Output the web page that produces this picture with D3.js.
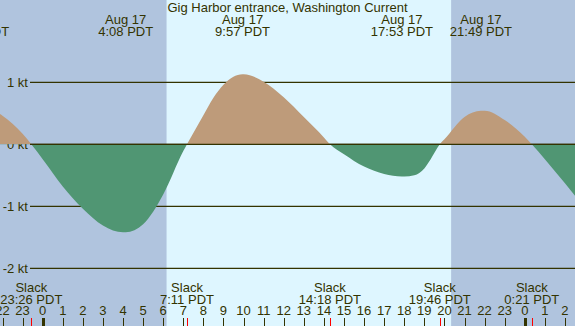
<!DOCTYPE html>
<html>
<head>
<meta charset="utf-8">
<script src="https://cdn.jsdelivr.net/npm/d3@7"></script>
<style>
  body { margin: 0; padding: 0; background: #fff; }
  svg { display: block; }
  text { font-family: "Liberation Sans", Arial, sans-serif; font-size: 13px; fill: #333300; }
</style>
</head>
<body>
<div class="render"></div>
<script>
// hours relative to midnight Aug 17 (PDT)
var title = "Gig Harbor entrance, Washington Current";

var hours = [-3.22, -3, -2, -1, -0.567, 0, 1, 2, 3, 4, 4.133, 5, 6, 7, 7.183, 8, 8.5, 9, 9.95, 10, 11, 12, 13, 14, 14.3,
             15, 16, 17, 17.883, 18, 18.5, 19, 19.3, 19.767, 20, 21, 21.817, 22, 23, 24, 24.35, 25, 26, 26.5];
var knots = [0.63, 0.62, 0.46, 0.17, 0, -0.24, -0.68, -1.04, -1.31, -1.42, -1.42, -1.29, -0.81, -0.11, 0, 0.47, 0.75, 0.96, 1.13, 1.13, 1.01, 0.76, 0.44, 0.11, 0,
             -0.16, -0.36, -0.48, -0.52, -0.52, -0.5, -0.39, -0.25, 0, 0.08, 0.44, 0.54, 0.54, 0.39, 0.12, 0, -0.24, -0.63, -0.83];

// max / min current events (top labels)
var peakDates = ["Aug 16", "Aug 17", "Aug 17", "Aug 17", "Aug 17"];
var peakTimes = ["20:47", "4:08", "9:57", "17:53", "21:49"];
var peakDays = [-1, 0, 0, 0, 0];

// slack water events (bottom labels)
var slackTimes = ["23:26", "7:11", "14:18", "19:46", "0:21"];
var slackDays = [-1, 0, 0, 0, 1];

var sunrise = "6:10", sunset = "20:20";
var yTicks = [1, 0, -1, -2];

var width = 575, height = 326;

function toHour(t, day) {
    var p = t.split(":");
    return day * 24 + parseInt(p[0]) + parseInt(p[1]) / 60;
}

var x = d3.scaleLinear().domain([-2.125, 26.5]).range([0, width]);
var y = d3.scaleLinear().domain([-2, 1]).range([268.3, 82.3]);

var svg = d3.select(".render").append("svg")
    .attr("width", width).attr("height", height);

// night / day background
svg.append("rect").attr("width", width).attr("height", height).attr("fill", "#b0c4de");
svg.append("rect")
    .attr("x", x(toHour(sunrise, 0))).attr("y", 0)
    .attr("width", x(toHour(sunset, 0)) - x(toHour(sunrise, 0)))
    .attr("height", height)
    .attr("fill", "#def6ff");

// grid lines
svg.selectAll("line.grid")
    .data(yTicks)
    .enter().append("line")
    .attr("class", "grid")
    .attr("x1", 30).attr("x2", width)
    .attr("y1", function(d) { return y(d); })
    .attr("y2", function(d) { return y(d); })
    .attr("stroke", "#333300").attr("stroke-width", 1.2);

svg.selectAll("text.ylab")
    .data(yTicks)
    .enter().append("text")
    .attr("class", "ylab")
    .attr("x", 28)
    .attr("y", function(d) { return y(d) + 4.5; })
    .attr("text-anchor", "end")
    .text(function(d) { return d + " kt"; });

// current curve
var pts = hours.map(function(h, i) { return [h, knots[i]]; });

var area = d3.area()
    .curve(d3.curveMonotoneX)
    .x(function(d) { return x(d[0]); })
    .y0(y(0))
    .y1(function(d) { return y(d[1]); });

var defs = svg.append("defs");
defs.append("clipPath").attr("id", "flood")
    .append("rect").attr("x", 0).attr("y", 0).attr("width", width).attr("height", y(0));
defs.append("clipPath").attr("id", "ebb")
    .append("rect").attr("x", 0).attr("y", y(0)).attr("width", width).attr("height", height - y(0));

svg.append("path").datum(pts)
    .attr("d", area)
    .attr("fill", "#be9b7a")
    .attr("clip-path", "url(#flood)");
svg.append("path").datum(pts)
    .attr("d", area)
    .attr("fill", "#509673")
    .attr("clip-path", "url(#ebb)");

svg.append("line")
    .attr("x1", 30).attr("x2", width)
    .attr("y1", y(0)).attr("y2", y(0))
    .attr("stroke", "#333300").attr("stroke-width", 1.2);

// title
svg.append("text")
    .attr("x", width / 2).attr("y", 12)
    .attr("text-anchor", "middle")
    .text(title);

// max / min labels
var peaks = peakTimes.map(function(t, i) {
    return { h: toHour(t, peakDays[i]), date: peakDates[i], time: t };
});
var pk = svg.selectAll("g.peak")
    .data(peaks)
    .enter().append("g")
    .attr("class", "peak")
    .attr("transform", function(d) { return "translate(" + x(d.h) + ",0)"; });
pk.append("text").attr("y", 24).attr("text-anchor", "middle").text(function(d) { return d.date; });
pk.append("text").attr("y", 36).attr("text-anchor", "middle").text(function(d) { return d.time + " PDT"; });

// slack labels
var slacks = slackTimes.map(function(t, i) {
    return { h: toHour(t, slackDays[i]), time: t };
});
var sl = svg.selectAll("g.slack")
    .data(slacks)
    .enter().append("g")
    .attr("class", "slack")
    .attr("transform", function(d) { return "translate(" + x(d.h) + ",0)"; });
sl.append("text").attr("y", 292).attr("text-anchor", "middle").text("Slack");
sl.append("text").attr("y", 303.5).attr("text-anchor", "middle").text(function(d) { return d.time + " PDT"; });

// hour axis
var hourTicks = d3.range(-2, 27);
svg.selectAll("text.hour")
    .data(hourTicks)
    .enter().append("text")
    .attr("class", "hour")
    .attr("x", function(d) { return x(d); })
    .attr("y", 314.5)
    .attr("text-anchor", "middle")
    .text(function(d) { return ((d % 24) + 24) % 24; });

svg.selectAll("line.hour")
    .data(hourTicks)
    .enter().append("line")
    .attr("class", "hour")
    .attr("x1", function(d) { return Math.round(x(d)) + 0.5; })
    .attr("x2", function(d) { return Math.round(x(d)) + 0.5; })
    .attr("y1", 318).attr("y2", height)
    .attr("stroke", "#333300")
    .attr("stroke-width", function(d) { return d % 24 === 0 ? 3 : 1; });

svg.selectAll("line.slacktick")
    .data(slacks)
    .enter().append("line")
    .attr("class", "slacktick")
    .attr("x1", function(d) { return Math.round(x(d.h)) + 0.5; })
    .attr("x2", function(d) { return Math.round(x(d.h)) + 0.5; })
    .attr("y1", 318).attr("y2", height)
    .attr("stroke", "#ff0000").attr("stroke-width", 1);
</script>
</body>
</html>
